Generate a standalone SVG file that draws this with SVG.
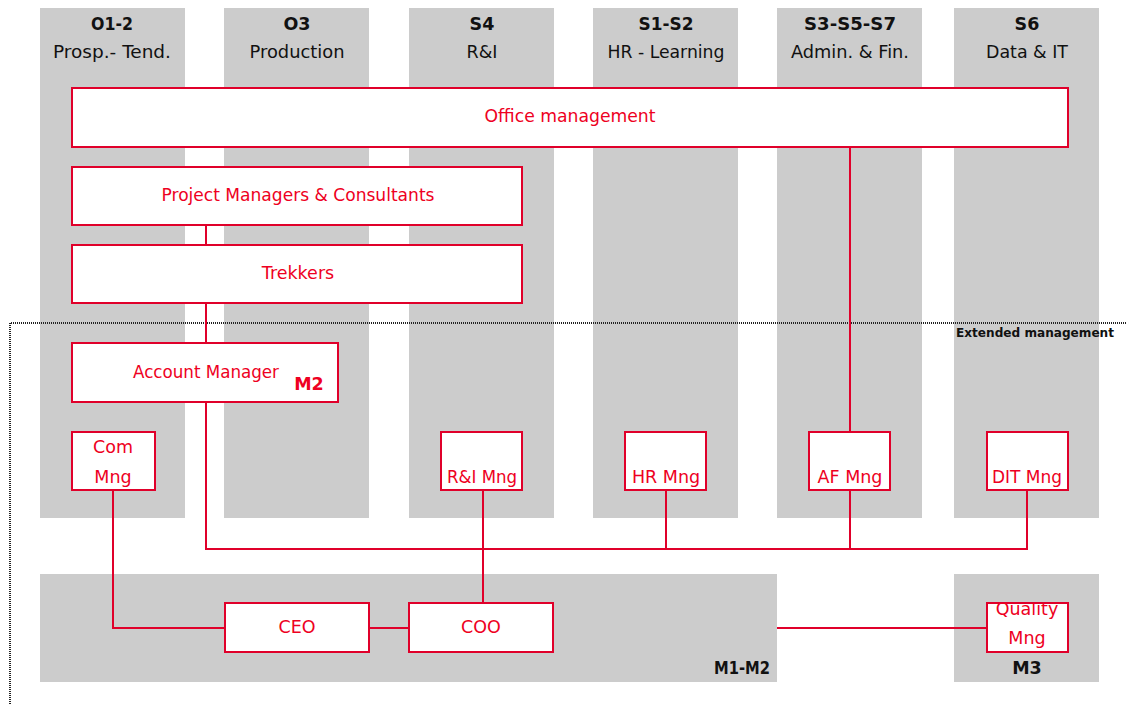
<svg xmlns="http://www.w3.org/2000/svg" width="1126" height="704" viewBox="0 0 1126 704">
<defs>
<style>
.col{fill:#cccccc}
.node{fill:#fff;stroke:#e0002a;stroke-width:2}
.t{font-family:"DejaVu Sans",sans-serif;font-size:17.5px;fill:#ee0022;text-anchor:middle}
.h{font-family:"DejaVu Sans",sans-serif;font-size:17.5px;fill:#111;text-anchor:middle}
.hb{font-weight:bold}
.c{fill:none;stroke:#e0002a;stroke-width:2}
</style>
<clipPath id="qclip"><rect x="987" y="603" width="81" height="49"/></clipPath>
</defs>
<g id="columns">
<rect class="col" x="40" y="8" width="145" height="510"/>
<rect class="col" x="224" y="8" width="145" height="510"/>
<rect class="col" x="409" y="8" width="145" height="510"/>
<rect class="col" x="593" y="8" width="145" height="510"/>
<rect class="col" x="777" y="8" width="145" height="510"/>
<rect class="col" x="954" y="8" width="145" height="510"/>
<rect class="col" x="40" y="574" width="737" height="108"/>
<rect class="col" x="954" y="574" width="145" height="108"/>
<text class="h hb" x="112" y="30" textLength="42" lengthAdjust="spacingAndGlyphs">O1-2</text>
<text class="h" x="112" y="58" textLength="118" lengthAdjust="spacingAndGlyphs">Prosp.- Tend.</text>
<text class="h hb" x="297" y="30">O3</text>
<text class="h" x="297" y="58" textLength="95" lengthAdjust="spacingAndGlyphs">Production</text>
<text class="h hb" x="482" y="30">S4</text>
<text class="h" x="482" y="58">R&amp;I</text>
<text class="h hb" x="666" y="30" textLength="55" lengthAdjust="spacingAndGlyphs">S1-S2</text>
<text class="h" x="666" y="58" textLength="117" lengthAdjust="spacingAndGlyphs">HR - Learning</text>
<text class="h hb" x="850" y="30" textLength="92" lengthAdjust="spacingAndGlyphs">S3-S5-S7</text>
<text class="h" x="850" y="58" textLength="118" lengthAdjust="spacingAndGlyphs">Admin. &amp; Fin.</text>
<text class="h hb" x="1027" y="30">S6</text>
<text class="h" x="1027" y="58" textLength="82" lengthAdjust="spacingAndGlyphs">Data &amp; IT</text>
<text class="h hb" x="770" y="674" style="text-anchor:end" textLength="56" lengthAdjust="spacingAndGlyphs">M1-M2</text>
<text class="h hb" x="1027" y="674">M3</text>
</g>
<g id="extended">
<path d="M10 704 V323 H1126" fill="none" stroke="#222" stroke-width="2" stroke-dasharray="1 1"/>
<text x="956" y="337" font-family="DejaVu Sans,sans-serif" font-size="13" font-weight="bold" fill="#111" textLength="158" lengthAdjust="spacingAndGlyphs">Extended management</text>
</g>
<g id="connectors">
<path class="c" d="M850 147 V432"/>
<path class="c" d="M206 225 V245"/>
<path class="c" d="M206 303 V343"/>
<path class="c" d="M206 402 V549 H1027 V490"/>
<path class="c" d="M666 549 V490"/>
<path class="c" d="M850 549 V490"/>
<path class="c" d="M113 490 V628 H225"/>
<path class="c" d="M369 628 H409"/>
<path class="c" d="M483 490 V603"/>
<path class="c" d="M777 628 H987"/>
</g>
<g id="office"><rect class="node" x="72" y="88" width="996" height="59"/><text class="t" x="570" y="122" textLength="171" lengthAdjust="spacingAndGlyphs">Office management</text></g>
<g id="pm"><rect class="node" x="72" y="167" width="450" height="58"/><text class="t" x="298" y="201" textLength="273" lengthAdjust="spacingAndGlyphs">Project Managers &amp; Consultants</text></g>
<g id="trekkers"><rect class="node" x="72" y="245" width="450" height="58"/><text class="t" x="298" y="279">Trekkers</text></g>
<g id="account"><rect class="node" x="72" y="343" width="266" height="59"/><text class="t" x="206" y="378" textLength="146" lengthAdjust="spacingAndGlyphs">Account Manager</text><text class="t hb" x="309" y="390">M2</text></g>
<g id="com"><rect class="node" x="72" y="432" width="83" height="58"/><text class="t" x="113" y="453">Com</text><text class="t" x="113" y="483">Mng</text></g>
<g id="ri"><rect class="node" x="441" y="432" width="81" height="58"/><text class="t" x="482" y="483" textLength="70" lengthAdjust="spacingAndGlyphs">R&amp;I Mng</text></g>
<g id="hr"><rect class="node" x="625" y="432" width="81" height="58"/><text class="t" x="666" y="483">HR Mng</text></g>
<g id="af"><rect class="node" x="809" y="432" width="81" height="58"/><text class="t" x="850" y="483">AF Mng</text></g>
<g id="dit"><rect class="node" x="987" y="432" width="81" height="58"/><text class="t" x="1027" y="483" textLength="70" lengthAdjust="spacingAndGlyphs">DIT Mng</text></g>
<g id="ceo"><rect class="node" x="225" y="603" width="144" height="49"/><text class="t" x="297" y="633">CEO</text></g>
<g id="coo"><rect class="node" x="409" y="603" width="144" height="49"/><text class="t" x="481" y="633">COO</text></g>
<g id="quality"><rect class="node" x="987" y="603" width="81" height="49"/><g clip-path="url(#qclip)"><text class="t" x="1027" y="615">Quality</text></g><text class="t" x="1027" y="644">Mng</text></g>
</svg>
